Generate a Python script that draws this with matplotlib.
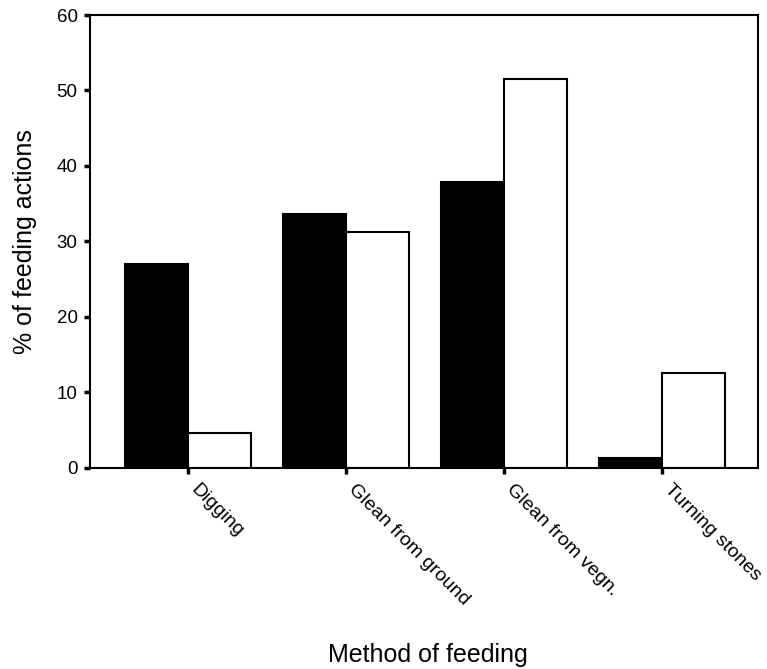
import matplotlib
matplotlib.use("Agg")
import matplotlib.pyplot as plt
import matplotlib.transforms as mtransforms
import numpy as np

categories = ["Digging", "Glean from ground", "Glean from vegn.", "Turning stones"]
series_black = [27.0, 33.6, 37.9, 1.3]
series_white = [4.6, 31.2, 51.5, 12.5]
yticks = [0, 10, 20, 30, 40, 50, 60]

plt.rcParams['font.family'] = ['Liberation Sans', 'DejaVu Sans']

fig = plt.figure(figsize=(7.67, 6.69), dpi=100)
ax = fig.add_axes([90/767, 1-467.5/669, (758-90)/767, (467.5-15)/669])

x = np.arange(len(categories))
w = 0.4
ax.bar(x - w/2, series_black, width=w, color='black', edgecolor='black', linewidth=1.5)
ax.bar(x + w/2, series_white, width=w, color='white', edgecolor='black', linewidth=1.5)

ax.set_xlim(-0.62, 3.61)
ax.set_ylim(0, 60)
ax.set_yticks(yticks)
ax.set_yticklabels([str(v) for v in yticks], fontsize=13.5)
ax.set_xticks(x)
ax.set_xticklabels(categories, rotation=-45, ha='left', va='center',
                   rotation_mode='anchor', fontsize=14)
ax.tick_params(axis='both', direction='out', length=4, width=2.5)
ax.tick_params(axis='y', pad=5)
ax.tick_params(axis='x', pad=10)
offset = mtransforms.ScaledTranslation(5/100, 0, fig.dpi_scale_trans)
for lbl in ax.get_xticklabels():
    lbl.set_transform(lbl.get_transform() + offset)
for s in ax.spines.values():
    s.set_linewidth(1.5)

ax.set_ylabel("% of feeding actions", fontsize=18, labelpad=14)
fig.text((328+527)/2/767, 1-655/669, "Method of feeding", fontsize=18,
         ha='center', va='center')

fig.savefig("out.png", dpi=100)
